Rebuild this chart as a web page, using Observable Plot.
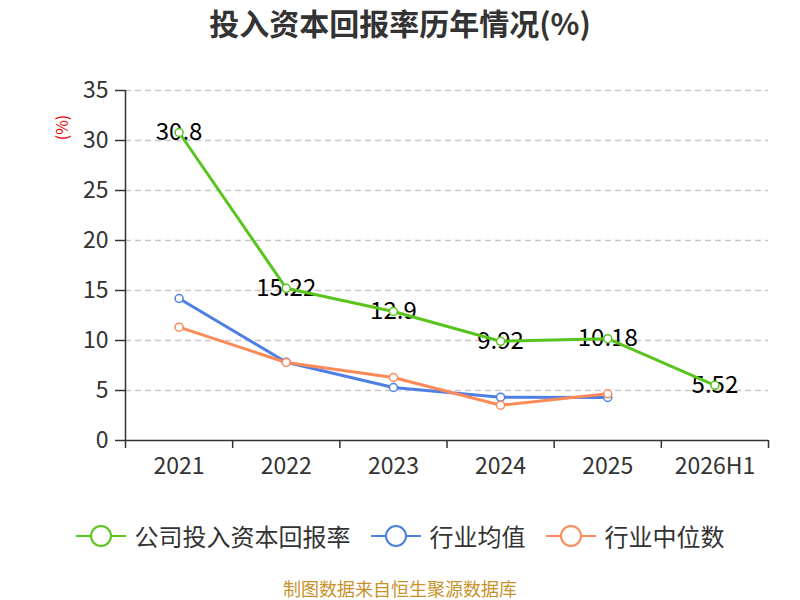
<!DOCTYPE html>
<html><head><meta charset="utf-8">
<script src="https://cdn.jsdelivr.net/npm/d3@7"></script>
<script src="https://cdn.jsdelivr.net/npm/@observablehq/plot@0.6"></script>
<style>
body{margin:0;background:#fff;font-family:"Noto Sans CJK SC","Noto Sans",sans-serif;}
#wrap{position:relative;width:800px;height:600px;overflow:hidden;}
#title{position:absolute;top:0;left:0;width:800px;text-align:center;font-size:30px;font-weight:bold;color:#333;line-height:44px;}
#chart{position:absolute;top:50px;left:0;z-index:1;}
#legend{position:absolute;top:518px;left:0;width:800px;display:flex;justify-content:center;gap:20px;font-size:24px;color:#333;z-index:2;}
.item{display:flex;align-items:center;gap:9px;}
#caption{position:absolute;top:578px;left:0;width:800px;height:20px;line-height:20px;text-align:center;font-size:18px;color:#c8922a;z-index:2;}
</style></head>
<body><div id="wrap">
<div id="title">投入资本回报率历年情况(%)</div>
<div id="chart"></div>
<div id="legend"></div>
<div id="caption">制图数据来自恒生聚源数据库</div>
</div>
<script>
const categories = ["2021","2022","2023","2024","2025","2026H1"];
const companyValues = [30.8, 15.22, 12.9, 9.92, 10.18, 5.52];
const industryAvg = [14.2, 7.83, 5.3, 4.33, 4.3];
const industryMedian = [11.33, 7.8, 6.3, 3.53, 4.67];
const yTicks = [0,5,10,15,20,25,30,35];
const seriesNames = ["公司投入资本回报率","行业均值","行业中位数"];
const yUnit = "(%)";
const colors = ["#5ac41e","#4e7fe4","#fc8a58"];

const toRows = vals => vals.map((v,i)=>({i, v}));
const comp = toRows(companyValues), avg = toRows(industryAvg), med = toRows(industryMedian);
const bounds = d3.range(categories.length+1).map(k=>k-0.5);

const chart = Plot.plot({
  width: 800, height: 470,
  marginLeft: 125, marginRight: 32, marginTop: 40, marginBottom: 80,
  style: {fontFamily: '"Noto Sans CJK SC","Noto Sans",sans-serif', background: "transparent"},
  x: {type: "linear", domain: [-0.5, categories.length-0.5]},
  y: {domain: [0,35]},
  marks: [
    Plot.gridY(yTicks.slice(1), {stroke: "#c8c8c8", strokeOpacity: 1, strokeDasharray: "6,4", strokeWidth: 1.3}),
    Plot.axisY({ticks: yTicks, tickSize: 10, tickPadding: 7, fontSize: 23, color: "#333", stroke: "#333", strokeWidth: 1.5, label: null}),
    Plot.axisX({ticks: bounds, tickSize: 8, tickFormat: () => "", stroke: "#333", strokeWidth: 1.5, label: null}),
    Plot.axisX({ticks: d3.range(categories.length), tickSize: 0, tickPadding: 17, tickFormat: i => categories[i], fontSize: 23, color: "#333", label: null}),
    Plot.text([yUnit], {frameAnchor: "top-left", dx: -63, dy: 37, rotate: -90, text: d => d, textAnchor: "middle", lineAnchor: "middle", fill: "#e00", fontSize: 16}),
    Plot.ruleX([-0.5], {stroke: "#333", strokeWidth: 1.5}),
    Plot.ruleY([0], {stroke: "#333", strokeWidth: 1.5}),
    Plot.text(comp, {x: "i", y: "v", text: d => String(d.v), fontSize: 24, fill: "#000"}),
    Plot.line(avg, {x: "i", y: "v", stroke: colors[1], strokeWidth: 3}),
    Plot.line(med, {x: "i", y: "v", stroke: colors[2], strokeWidth: 3}),
    Plot.line(comp, {x: "i", y: "v", stroke: colors[0], strokeWidth: 3}),
    Plot.dot(avg, {x: "i", y: "v", r: 4, fill: "#fff", stroke: colors[1], strokeWidth: 1.5}),
    Plot.dot(med, {x: "i", y: "v", r: 4, fill: "#fff", stroke: colors[2], strokeWidth: 1.5}),
    Plot.dot(comp, {x: "i", y: "v", r: 4, fill: "#fff", stroke: colors[0], strokeWidth: 1.5})
  ]
});
document.getElementById("chart").appendChild(chart);

const legend = document.getElementById("legend");
seriesNames.forEach((name, k) => {
  const it = document.createElement("div");
  it.className = "item";
  it.innerHTML = `<svg width="50" height="24"><line x1="0" y1="12" x2="50" y2="12" stroke="${colors[k]}" stroke-width="2"/><circle cx="25" cy="12" r="10" fill="#fff" stroke="${colors[k]}" stroke-width="2"/></svg><span>${name}</span>`;
  legend.appendChild(it);
});
</script>
</body></html>
